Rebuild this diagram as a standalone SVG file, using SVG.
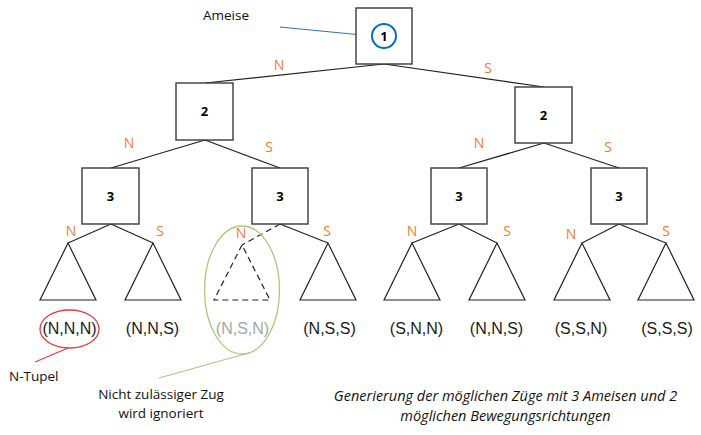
<svg xmlns="http://www.w3.org/2000/svg" width="701" height="435" viewBox="0 0 701 435">
<style>
.box{fill:#fff;stroke:#3a3a3a;stroke-width:1.4}
.num{font-family:"Open Sans","DejaVu Sans",sans-serif;font-size:13px;font-weight:bold;fill:#000;text-anchor:middle}
.edge{stroke:#222;stroke-width:1.2;fill:none}
.dash{stroke-dasharray:6,4}
.tri{fill:#fff;stroke:#222;stroke-width:1.2}
.lbl{font-family:"Open Sans","DejaVu Sans",sans-serif;font-size:14px;fill:#ED7D31;text-anchor:middle}
.tup{font-family:"Liberation Sans",Arial,sans-serif;font-size:16px;fill:#1a1a1a;text-anchor:middle}
.note{font-family:"Open Sans","DejaVu Sans",sans-serif;font-size:13.5px;fill:#111}
.cap{font-family:"Open Sans","DejaVu Sans",sans-serif;font-size:14.5px;font-style:italic;fill:#111;text-anchor:middle}
</style>
<rect width="701" height="435" fill="#fff"/>
<g id="connectors">
<line class="edge" x1="384" y1="64" x2="205" y2="83"/>
<line class="edge" x1="384" y1="64" x2="544" y2="87"/>
<line class="edge" x1="205" y1="140" x2="111" y2="168"/>
<line class="edge" x1="205" y1="140" x2="280" y2="168"/>
<line class="edge" x1="544" y1="143" x2="459" y2="168"/>
<line class="edge" x1="544" y1="143" x2="619" y2="168"/>
<line class="edge" x1="111" y1="224" x2="68" y2="243"/>
<line class="edge" x1="111" y1="224" x2="153" y2="243"/>
<line class="edge dash" x1="280" y1="224" x2="242" y2="245"/>
<line class="edge" x1="280" y1="224" x2="328" y2="243"/>
<line class="edge" x1="459" y1="224" x2="412" y2="243"/>
<line class="edge" x1="459" y1="224" x2="497" y2="243"/>
<line class="edge" x1="619" y1="224" x2="582" y2="243"/>
<line class="edge" x1="619" y1="224" x2="666" y2="243"/>
<line x1="280" y1="27" x2="372" y2="36" stroke="#2E75B6" stroke-width="1.2"/>
<line x1="68" y1="348" x2="35" y2="362" stroke="#E8393E" stroke-width="1.2"/>
<line x1="245" y1="354" x2="159" y2="378" stroke="#A9C97A" stroke-width="1.2"/>
</g>
<g id="edge-labels">
<text class="lbl" x="279" y="70">N</text>
<text class="lbl" x="488" y="73">S</text>
<text class="lbl" x="129" y="148">N</text>
<text class="lbl" x="269" y="152">S</text>
<text class="lbl" x="479" y="148">N</text>
<text class="lbl" x="608" y="152">S</text>
<text class="lbl" x="71" y="236">N</text>
<text class="lbl" x="160" y="236">S</text>
<text class="lbl" x="241" y="238">N</text>
<text class="lbl" x="327" y="236">S</text>
<text class="lbl" x="412" y="236">N</text>
<text class="lbl" x="507" y="236">S</text>
<text class="lbl" x="571" y="239">N</text>
<text class="lbl" x="666" y="236">S</text>
</g>
<g id="node-root">
<rect class="box" x="356" y="8" width="56" height="56"/>
<circle cx="384" cy="36" r="12" fill="#fff" stroke="#0070C0" stroke-width="2"/>
<text class="num" x="384" y="40.5">1</text>
</g>
<g id="node-2-left"><rect class="box" x="176" y="83" width="57" height="57"/><text class="num" x="204.5" y="116">2</text></g>
<g id="node-2-right"><rect class="box" x="515" y="87" width="57" height="56"/><text class="num" x="543.5" y="119.5">2</text></g>
<g id="node-3-a"><rect class="box" x="82" y="168" width="57" height="56"/><text class="num" x="110.5" y="200.5">3</text></g>
<g id="node-3-b"><rect class="box" x="252" y="168" width="56" height="56"/><text class="num" x="280" y="200.5">3</text></g>
<g id="node-3-c"><rect class="box" x="431" y="168" width="56" height="56"/><text class="num" x="459" y="200.5">3</text></g>
<g id="node-3-d"><rect class="box" x="591" y="168" width="56" height="56"/><text class="num" x="619" y="200.5">3</text></g>
<g id="leaf-1"><polygon class="tri" points="68,243 40,300 96,300"/><text class="tup" x="69.5" y="334">(N,N,N)</text></g>
<g id="leaf-2"><polygon class="tri" points="153,243 125,300 181,300"/><text class="tup" x="152.5" y="334">(N,N,S)</text></g>
<g id="leaf-3"><polygon class="tri dash" points="242,245 214,300 270,300" fill="none"/><text class="tup" x="242.5" y="334" style="fill:#A6A6A6">(N,S,N)</text></g>
<g id="leaf-4"><polygon class="tri" points="328,243 300,300 356,300"/><text class="tup" x="329.5" y="334">(N,S,S)</text></g>
<g id="leaf-5"><polygon class="tri" points="412,243 384,300 440,300"/><text class="tup" x="416.5" y="334">(S,N,N)</text></g>
<g id="leaf-6"><polygon class="tri" points="497,243 469,300 525,300"/><text class="tup" x="496.5" y="334">(N,N,S)</text></g>
<g id="leaf-7"><polygon class="tri" points="582,243 554,300 610,300"/><text class="tup" x="581" y="334">(S,S,N)</text></g>
<g id="leaf-8"><polygon class="tri" points="666,243 638,300 694,300"/><text class="tup" x="667" y="334">(S,S,S)</text></g>
<g id="annotations">
<ellipse cx="69.5" cy="329" rx="29.5" ry="19" fill="none" stroke="#E8393E" stroke-width="1.3"/>
<ellipse cx="242" cy="290" rx="37.5" ry="64" fill="none" stroke="#A9C97A" stroke-width="1.3"/>
<text class="note" x="203" y="20">Ameise</text>
<text class="note" x="9" y="381">N-Tupel</text>
<text class="note" x="161" y="398.5" text-anchor="middle">Nicht zulässiger Zug</text>
<text class="note" x="161" y="417.5" text-anchor="middle">wird ignoriert</text>
<text class="cap" x="505.5" y="400.5">Generierung der möglichen Züge mit 3 Ameisen und 2</text>
<text class="cap" x="505.5" y="420.5">möglichen Bewegungsrichtungen</text>
</g>
</svg>
